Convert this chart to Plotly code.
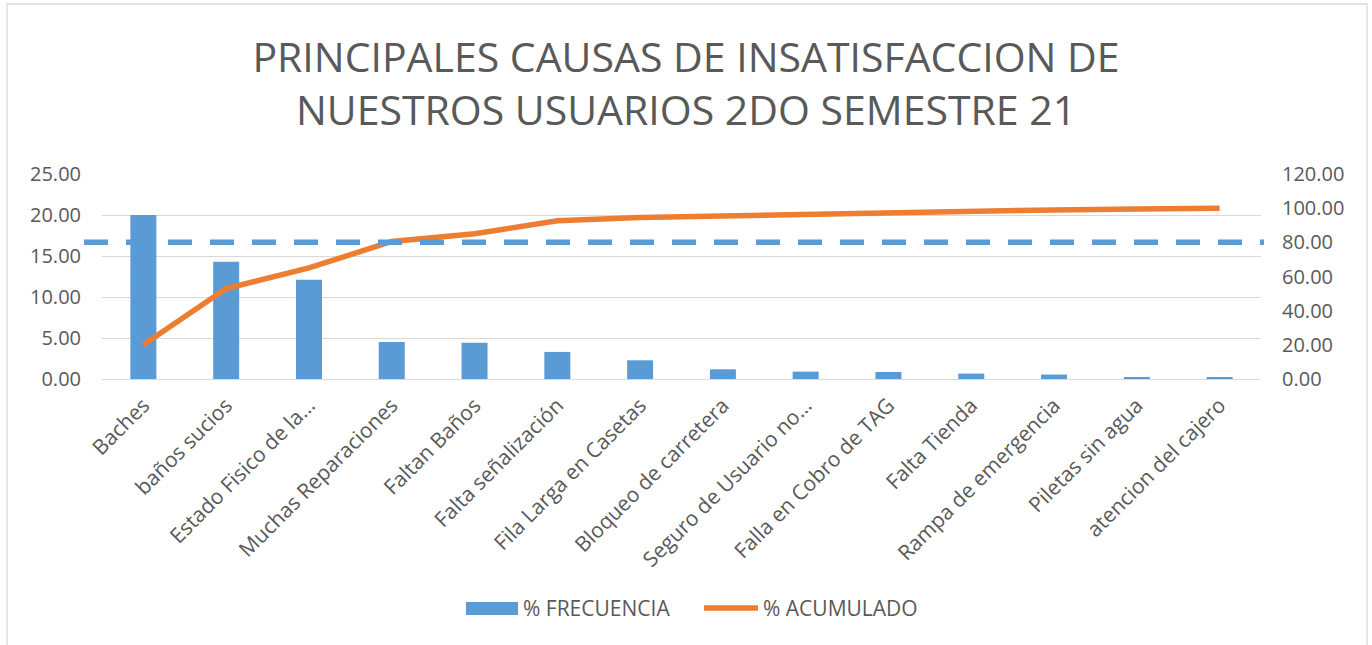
import plotly.graph_objects as go

categories = [
    "Baches", "baños sucios", "Estado Fisico de la…", "Muchas Reparaciones",
    "Faltan Baños", "Falta señalización", "Fila Larga en Casetas",
    "Bloqueo de carretera", "Seguro de Usuario no…", "Falla en Cobro de TAG",
    "Falta Tienda", "Rampa de emergencia", "Piletas sin agua", "atencion del cajero",
]
frecuencia = [20.0, 14.3, 12.1, 4.5, 4.42, 3.3, 2.28, 1.18, 0.9, 0.86, 0.66, 0.54, 0.17, 0.17]
acumulado = [20.0, 53.0, 65.0, 80.5, 85.0, 92.6, 94.5, 95.5, 96.5, 97.5, 98.4, 99.0, 99.5, 100.0]
left_ticks = [0, 5, 10, 15, 20, 25]
right_ticks = [0, 20, 40, 60, 80, 100, 120]
umbral = 80
series_names = ["% FRECUENCIA", "% ACUMULADO"]

BLUE = "#5B9BD5"
ORANGE = "#ED7D31"
GRAY = "#595959"
GRID = "#D9D9D9"
FONT = "Open Sans"

W, H = 1372, 645
PL, PR, PT, PB = 102, 1261, 174, 379  # plot area in pixels


def px(x):
    return (x - PL) / (PR - PL)


def py(y):
    return (PB - y) / (PB - PT)


fig = go.Figure()
fig.add_trace(go.Bar(
    x=categories, y=frecuencia, name=series_names[0],
    marker=dict(color=BLUE, line=dict(width=0)), yaxis="y", showlegend=False,
))
fig.add_trace(go.Scatter(
    x=categories, y=acumulado, name=series_names[1], mode="lines",
    line=dict(color=ORANGE, width=5.5), yaxis="y2", showlegend=False,
))

fig.add_shape(
    type="line", xref="paper", yref="y2",
    x0=px(84), x1=px(1264), y0=umbral, y1=umbral,
    line=dict(color=BLUE, width=5.5, dash="24px,18px"), layer="above",
)

# legend drawn as swatches + text
fig.add_shape(type="rect", xref="paper", yref="paper",
              x0=px(466), x1=px(518), y0=py(615), y1=py(602),
              fillcolor=BLUE, line=dict(width=0))
fig.add_shape(type="line", xref="paper", yref="paper",
              x0=px(704), x1=px(758), y0=py(608), y1=py(608),
              line=dict(color=ORANGE, width=5.5))
fig.add_annotation(text=series_names[0], xref="paper", yref="paper",
                   x=px(521), y=py(608), xanchor="left", yanchor="middle",
                   showarrow=False, font=dict(family=FONT, size=21, color=GRAY))
fig.add_annotation(text=series_names[1], xref="paper", yref="paper",
                   x=px(761), y=py(608), xanchor="left", yanchor="middle",
                   showarrow=False, font=dict(family=FONT, size=21, color=GRAY))

# chart border
fig.add_shape(
    type="rect", xref="paper", yref="paper",
    x0=px(7), x1=px(1367), y0=py(660), y1=py(4),
    line=dict(color=GRID, width=1.3), fillcolor="rgba(0,0,0,0)", layer="below",
)

fig.update_layout(
    width=W, height=H,
    margin=dict(l=PL, r=W - PR, t=PT, b=H - PB, autoexpand=False),
    paper_bgcolor="white", plot_bgcolor="white",
    font=dict(family=FONT, color=GRAY, size=19),
    title=dict(
        text="PRINCIPALES CAUSAS DE INSATISFACCION DE<br>NUESTROS USUARIOS 2DO SEMESTRE 21",
        x=0.5, xanchor="center", xref="container",
        y=1 - 72 / H, yanchor="middle", yref="container",
        font=dict(family=FONT, size=41, color=GRAY),
    ),
    bargap=0.686,
    showlegend=False,
    xaxis=dict(
        type="category", tickangle=-45, showgrid=False, showline=False,
        ticks="", ticklabelstandoff=9, tickfont=dict(size=21, color=GRAY),
    ),
    yaxis=dict(
        range=[0, 25], tickvals=left_ticks, tickformat=".2f",
        showgrid=True, gridcolor=GRID, gridwidth=1.3,
        zeroline=True, zerolinecolor=GRID, zerolinewidth=1.3,
        showline=False, ticks="", ticklabelstandoff=20,
        tickfont=dict(size=20, color=GRAY),
    ),
    yaxis2=dict(
        range=[0, 120], tickvals=right_ticks, tickformat=".2f",
        overlaying="y", side="right", showgrid=False, zeroline=False,
        showline=False, ticks="", ticklabelstandoff=20,
        tickfont=dict(size=20, color=GRAY),
    ),
)

fig.write_html(
    "out.html",
    config={"displayModeBar": False},
    post_script="document.body.style.margin='0';",
)
